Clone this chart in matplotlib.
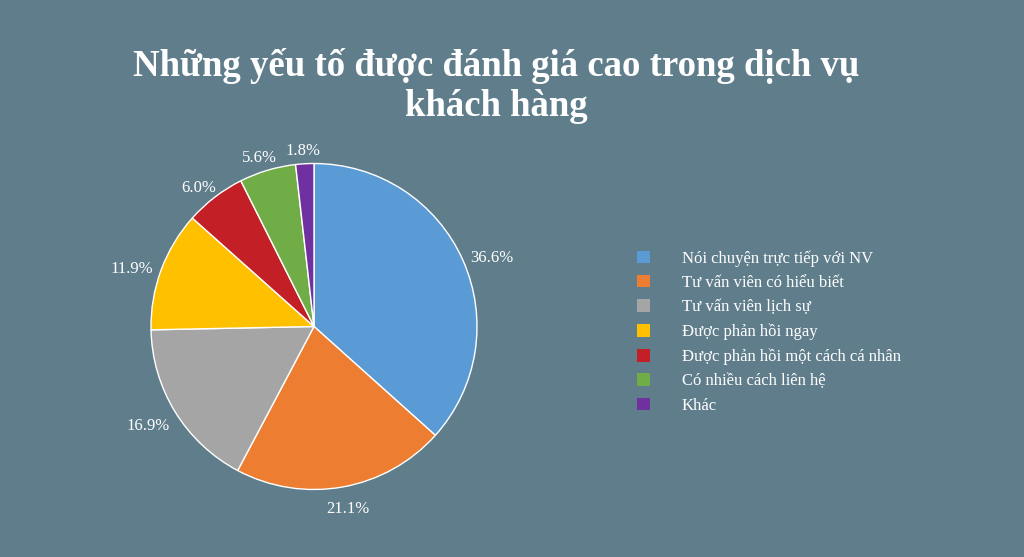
import matplotlib
matplotlib.use("Agg")
import matplotlib.pyplot as plt
import numpy as np

categories = ["Nói chuyện trực tiếp với NV", "Tư vấn viên có hiểu biết",
              "Tư vấn viên lịch sự", "Được phản hồi ngay",
              "Được phản hồi một cách cá nhân", "Có nhiều cách liên hệ", "Khác"]
values = [36.6, 21.1, 16.9, 11.9, 6.0, 5.6, 1.8]
colors = ["#5B9BD5", "#ED7D31", "#A5A5A5", "#FFC000", "#C21F26", "#70AD47", "#7030A0"]
title = "Những yếu tố được đánh giá cao trong dịch vụ\nkhách hàng"

bg = "#607D8B"
serif = ["Liberation Serif", "DejaVu Serif"]

fig = plt.figure(figsize=(10.24, 5.57), dpi=100, facecolor=bg)
R = 163
cx, cy = 314, 326.5
ax = fig.add_axes([(cx - R) / 1024, (557 - cy - R) / 557, 2 * R / 1024, 2 * R / 557])
ax.set_facecolor(bg)

wedges, _ = ax.pie(
    values, colors=colors, startangle=90, counterclock=False,
    wedgeprops=dict(edgecolor="white", linewidth=1.0), radius=1.0)
ax.set_xlim(-1, 1)
ax.set_ylim(-1, 1)
ax.set_aspect("auto")
ax.axis("off")

# percentage labels placed just outside each wedge (Excel "outside end" style)
renderer = fig.canvas.get_renderer()
for w, v in zip(wedges, values):
    ang = np.deg2rad((w.theta1 + w.theta2) / 2)
    c, s = np.cos(ang), np.sin(ang)
    t = ax.text(0, 0, f"{v:.1f}%", ha="center", va="center", color="white",
                fontsize=12, family=serif)
    bb = t.get_window_extent(renderer)
    hw = bb.width / 2 / R
    hh = bb.height / 2 / R
    d = 1.06
    t.set_position((d * c + hw * c, d * s + hh * s - 5 / R))

fig.text(496 / 1024, 1 - 86 / 557, title, ha="center", va="center",
         fontsize=26.5, fontweight="bold", color="white", family=serif,
         linespacing=1.2)

leg = fig.legend(wedges, categories, loc="center left",
                 bbox_to_anchor=(637 / 1024, 1 - 332 / 557),
                 frameon=False, borderpad=0, borderaxespad=0,
                 handlelength=0.78, handleheight=0.78, handletextpad=1.9,
                 labelspacing=0.5, prop=dict(family=serif, size=12))
for t in leg.get_texts():
    t.set_color("white")
for h in leg.legend_handles:
    h.set_edgecolor("none")

fig.savefig("out.png", dpi=100, facecolor=bg)
